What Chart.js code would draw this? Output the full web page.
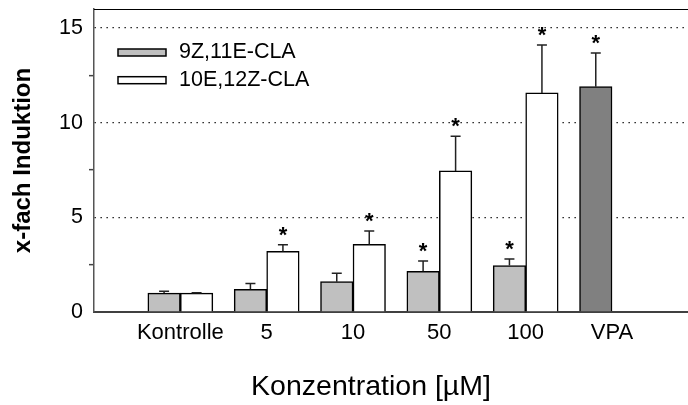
<!DOCTYPE html>
<html>
<head>
<meta charset="utf-8">
<script src="https://cdn.jsdelivr.net/npm/chart.js@4.4.0/dist/chart.umd.min.js"></script>
<style>
  html, body { margin: 0; padding: 0; background: #fff; }
</style>
</head>
<body>
<canvas id="chart" width="688" height="405"></canvas>
<script>
const categories = ['Kontrolle', '5', '10', '50', '100', 'VPA'];

// mean x-fold induction with SD, one entry per category
const cla9z = [1.0, 1.2, 1.6, 2.15, 2.45, null];
const cla9zErr = [0.1, 0.3, 0.44, 0.54, 0.35, null];
const cla9zSig = [false, false, false, true, true, false];

const cla10e = [1.0, 3.2, 3.57, 7.45, 11.57, null];
const cla10eErr = [0.02, 0.35, 0.71, 1.83, 2.53, null];
const cla10eSig = [false, true, true, true, true, false];

const vpa = [null, null, null, null, null, 11.9];
const vpaErr = [null, null, null, null, null, 1.78];
const vpaSig = [false, false, false, false, false, true];

const yMajor = [0, 5, 10, 15];
const yMinor = [2.5, 7.5, 12.5];
const xTitle = 'Konzentration [µM]';
const yTitle = 'x-fach Induktion';

const FONT = "'Liberation Sans', Arial, sans-serif";
Chart.defaults.font.family = FONT;
Chart.defaults.color = '#000';

const points = (arr) => arr.map((v, i) => ({ x: i, y: v }));

// SD whiskers (upper only) and significance stars
const errorBars = {
    id: 'errorBars',
    afterDatasetsDraw(chart) {
        const { ctx } = chart;
        const y = chart.scales.y;
        ctx.save();
        chart.data.datasets.forEach((ds, i) => {
            const meta = chart.getDatasetMeta(i);
            meta.data.forEach((bar, j) => {
                const v = ds.data[j].y;
                const err = ds.errors[j];
                if (v == null || err == null) return;
                const top = y.getPixelForValue(v + err);
                ctx.strokeStyle = '#222';
                ctx.lineWidth = 1.5;
                ctx.beginPath();
                ctx.moveTo(bar.x, bar.y);
                ctx.lineTo(bar.x, top);
                ctx.moveTo(bar.x - 5, top);
                ctx.lineTo(bar.x + 5, top);
                ctx.stroke();
                if (ds.sig[j]) {
                    ctx.font = 'bold 22px ' + FONT;
                    ctx.textAlign = 'center';
                    ctx.textBaseline = 'alphabetic';
                    ctx.fillStyle = '#000';
                    ctx.fillText('*', bar.x, top - 3);
                }
            });
        });
        ctx.restore();
    }
};

// frame top line, legend inside the plot and x axis title
const decorations = {
    id: 'decorations',
    afterDraw(chart) {
        const { ctx, chartArea } = chart;
        ctx.save();
        ctx.strokeStyle = '#000';
        ctx.lineWidth = 1;
        ctx.beginPath();
        ctx.moveTo(chartArea.left, chartArea.top + 0.5);
        ctx.lineTo(chartArea.right, chartArea.top + 0.5);
        ctx.stroke();

        const lx = chartArea.left + 24;
        let ly = chartArea.top + 40;
        ctx.font = '21.5px ' + FONT;
        ctx.textAlign = 'left';
        ctx.textBaseline = 'middle';
        chart.data.datasets.slice(0, 2).forEach((ds) => {
            ctx.fillStyle = ds.backgroundColor;
            ctx.fillRect(lx, ly, 48, 7);
            ctx.lineWidth = 1.5;
            ctx.strokeStyle = '#000';
            ctx.strokeRect(lx, ly, 48, 7);
            ctx.fillStyle = '#000';
            ctx.fillText(ds.label, lx + 61, ly + 3.5);
            ly += 27.7;
        });

        ctx.font = '28.5px ' + FONT;
        ctx.textAlign = 'center';
        ctx.textBaseline = 'middle';
        ctx.fillText(xTitle, 371, 387);
        ctx.restore();
    }
};

new Chart(document.getElementById('chart'), {
    type: 'bar',
    data: {
        datasets: [
            {
                label: '9Z,11E-CLA',
                data: points(cla9z),
                errors: cla9zErr,
                sig: cla9zSig,
                stack: 'a',
                backgroundColor: '#c0c0c0',
                borderColor: '#000',
                borderWidth: 1.5
            },
            {
                label: '10E,12Z-CLA',
                data: points(cla10e),
                errors: cla10eErr,
                sig: cla10eSig,
                stack: 'b',
                backgroundColor: '#ffffff',
                borderColor: '#000',
                borderWidth: 1.5
            },
            {
                label: 'VPA',
                data: points(vpa),
                errors: vpaErr,
                sig: vpaSig,
                stack: 'a',
                backgroundColor: '#808080',
                borderColor: '#000',
                borderWidth: 1.5
            }
        ]
    },
    options: {
        responsive: false,
        animation: false,
        barThickness: 32.5,
        layout: { padding: { top: 9, right: 0, left: 0, bottom: 0 } },
        plugins: {
            legend: { display: false },
            tooltip: { enabled: false }
        },
        scales: {
            x: {
                type: 'linear',
                offset: false,
                min: -1,
                max: 5.88,
                afterFit: (scale) => {
                    scale.height = 93;
                    scale.paddingLeft = 0;
                    scale.paddingRight = 0;
                },
                afterBuildTicks: (scale) => {
                    scale.ticks = categories.map((c, i) => ({ value: i }));
                },
                grid: { display: false, drawTicks: false },
                border: { display: true, color: '#404040', width: 2 },
                ticks: {
                    autoSkip: false,
                    maxRotation: 0,
                    padding: 8,
                    font: { size: 22 },
                    callback: (v) => categories[v] ?? ''
                }
            },
            y: {
                min: 0,
                max: 16,
                stacked: false,
                afterFit: (scale) => {
                    scale.width = 94;
                    scale.paddingTop = 0;
                    scale.paddingBottom = 0;
                },
                afterBuildTicks: (scale) => {
                    scale.ticks = yMajor.concat(yMinor).sort((a, b) => a - b).map((v) => ({ value: v }));
                },
                ticks: {
                    padding: 6,
                    font: { size: 21.5 },
                    callback: (v) => yMajor.includes(v) ? v : ''
                },
                grid: {
                    drawTicks: true,
                    tickLength: 5,
                    tickWidth: 1.5,
                    lineWidth: 1.3,
                    color: (ctx) => (ctx.tick && ctx.tick.value > 0 && yMajor.includes(ctx.tick.value)) ? '#000' : 'transparent',
                    tickColor: (ctx) => (ctx.tick && yMinor.includes(ctx.tick.value)) ? '#444' : 'transparent'
                },
                border: { display: true, color: '#555', width: 1.5, dash: [1.3, 4.7] },
                title: {
                    display: true,
                    text: yTitle,
                    font: { size: 24, weight: 'bold' },
                    padding: { top: 9, bottom: 0 }
                }
            }
        }
    },
    plugins: [errorBars, decorations]
});
</script>
</body>
</html>
